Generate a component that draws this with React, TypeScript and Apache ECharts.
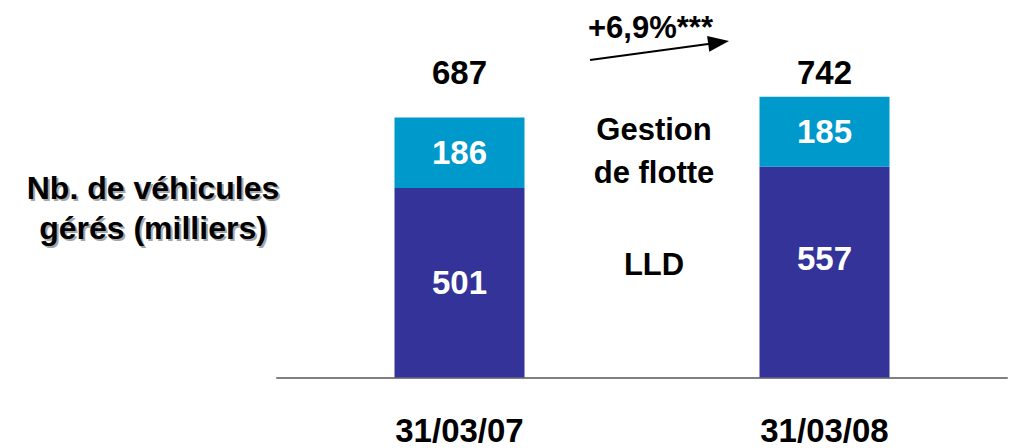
import React, { useEffect, useRef } from "react";
import * as echarts from "echarts";

const categories = ["31/03/07", "31/03/08"];
const lldValues = [501, 557];
const flotteValues = [186, 185];
const totals = [687, 742];
const growthLabel = "+6,9%***";
const yTitle = "Nb. de véhicules\ngérés (milliers)";
const flotteName = "Gestion\nde flotte";
const lldName = "LLD";

const FONT = "'Liberation Sans', Arial, Helvetica, sans-serif";
const TOTAL_LEVEL = 805;

export default function App() {
  const ref = useRef<HTMLDivElement>(null);
  useEffect(() => {
    if (!ref.current) return;
    const chart = echarts.init(ref.current, null, { renderer: "svg" });
    const bold = { fontFamily: FONT, fontWeight: "bold" as const };
    const titleStyle = {
      text: yTitle,
      ...bold,
      fontSize: 32,
      lineHeight: 40,
      align: "center",
      verticalAlign: "middle",
    };
    const staticGraphics: any[] = [
      {
        type: "text",
        x: 155,
        y: 210,
        z: 1,
        silent: true,
        style: { ...titleStyle, fill: "#a6a6a6" },
      },
      {
        type: "text",
        x: 153,
        y: 208,
        z: 2,
        style: { ...titleStyle, fill: "#000" },
      },
      {
        type: "text",
        x: 654,
        y: 151,
        style: {
          text: flotteName,
          ...bold,
          fontSize: 31,
          lineHeight: 43,
          fill: "#000",
          align: "center",
          verticalAlign: "middle",
        },
      },
      {
        type: "text",
        x: 654,
        y: 264,
        style: {
          text: lldName,
          ...bold,
          fontSize: 31,
          fill: "#000",
          align: "center",
          verticalAlign: "middle",
        },
      },
      {
        type: "text",
        x: 588,
        y: 27,
        style: {
          text: growthLabel,
          ...bold,
          fontSize: 31,
          fill: "#000",
          align: "left",
          verticalAlign: "middle",
        },
      },
      {
        type: "line",
        shape: { x1: 590, y1: 60, x2: 710, y2: 43.8 },
        style: { stroke: "#000", lineWidth: 2 },
      },
      {
        type: "polygon",
        shape: {
          points: [
            [729, 41],
            [709.3, 51.7],
            [707.1, 35.9],
          ],
        },
        style: { fill: "#000" },
      },
    ];
    chart.setOption({
      animation: false,
      grid: { left: 277, right: 16, top: 37, height: 340.5 },
      xAxis: {
        type: "category",
        data: categories,
        boundaryGap: true,
        axisLine: { show: true, lineStyle: { color: "#808080", width: 2 } },
        axisTick: { show: false },
        axisLabel: { ...bold, fontSize: 33, color: "#000", margin: 38, lineHeight: 30 },
      },
      yAxis: {
        type: "value",
        min: 0,
        max: 900,
        show: false,
        splitLine: { show: false },
      },
      series: [
        {
          name: lldName,
          type: "bar",
          stack: "total",
          barWidth: 130,
          itemStyle: { color: "#333399" },
          label: {
            show: true,
            position: "inside",
            ...bold,
            fontSize: 33,
            color: "#fff",
          },
          data: lldValues.map((v, i) =>
            i === 1 ? { value: v, label: { offset: [0, -14] } } : v
          ),
        },
        {
          name: "Gestion de flotte",
          type: "bar",
          stack: "total",
          barWidth: 130,
          itemStyle: { color: "#0099CC" },
          label: {
            show: true,
            position: "inside",
            ...bold,
            fontSize: 33,
            color: "#fff",
          },
          data: flotteValues,
        },
      ],
      graphic: staticGraphics,
    });
    const totalTexts = categories.map((c, i) => {
      const [px, py] = chart.convertToPixel({ gridIndex: 0 }, [c, TOTAL_LEVEL]) as number[];
      return {
        type: "text",
        x: px,
        y: py,
        style: {
          text: String(totals[i]),
          ...bold,
          fontSize: 33,
          fill: "#000",
          align: "center",
          verticalAlign: "middle",
        },
      };
    });
    chart.setOption({ graphic: [...staticGraphics, ...totalTexts] }, { replaceMerge: ["graphic"] });
    return () => chart.dispose();
  }, []);
  return <div ref={ref} style={{ width: 1023, height: 448, position: "absolute", left: 0, top: 0 }} />;
}
